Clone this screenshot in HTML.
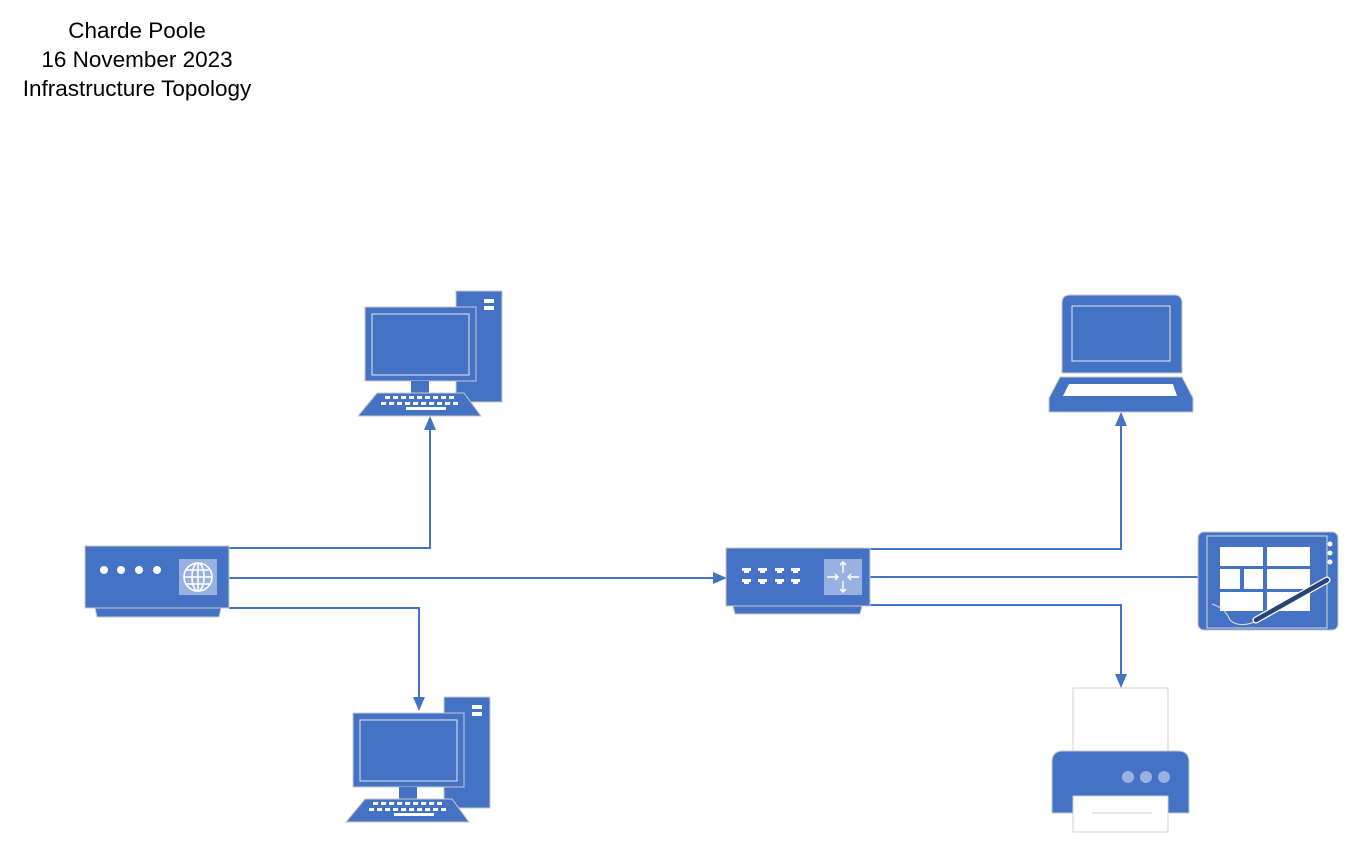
<!DOCTYPE html>
<html><head><meta charset="utf-8"><style>
html,body{margin:0;padding:0;background:#fff;width:1350px;height:843px;overflow:hidden}
.t{position:absolute;left:0;width:274px;text-align:center;font-family:"Liberation Sans",sans-serif;font-size:22.5px;line-height:26px;color:#000}
</style></head><body>
<div class="t" style="top:18px">Charde Poole</div>
<div class="t" style="top:47px">16 November 2023</div>
<div class="t" style="top:76px">Infrastructure Topology</div>
<svg width="1350" height="843" style="position:absolute;left:0;top:0" xmlns="http://www.w3.org/2000/svg">
<defs>
<g id="pc">
<rect x="91" y="0" width="46" height="111" fill="#4472c4" stroke="#c8c8c8" stroke-width="1"/>
<rect x="119" y="8" width="10" height="4" fill="#fff"/><rect x="119" y="15" width="10" height="4" fill="#fff"/>
<rect x="0" y="16" width="111" height="74" fill="#4472c4" stroke="#c8c8c8" stroke-width="1"/>
<rect x="7" y="23" width="97" height="61" fill="none" stroke="#e8e8e8" stroke-width="1"/>
<rect x="46" y="90" width="18" height="12" fill="#4472c4"/>
<path d="M12 102 L99 102 L116 125 L-7 125 Z" fill="#4472c4" stroke="#c8c8c8" stroke-width="1"/>
<g fill="#fff">
<rect x="20" y="105" width="5" height="3"/><rect x="28" y="105" width="5" height="3"/><rect x="36" y="105" width="5" height="3"/><rect x="44" y="105" width="5" height="3"/><rect x="52" y="105" width="5" height="3"/><rect x="60" y="105" width="5" height="3"/><rect x="68" y="105" width="5" height="3"/><rect x="76" y="105" width="5" height="3"/><rect x="84" y="105" width="5" height="3"/>
<rect x="16" y="111" width="5" height="3"/><rect x="24" y="111" width="5" height="3"/><rect x="32" y="111" width="5" height="3"/><rect x="40" y="111" width="5" height="3"/><rect x="48" y="111" width="5" height="3"/><rect x="56" y="111" width="5" height="3"/><rect x="64" y="111" width="5" height="3"/><rect x="72" y="111" width="5" height="3"/><rect x="80" y="111" width="5" height="3"/><rect x="88" y="111" width="5" height="3"/>
<rect x="41" y="116" width="40" height="3"/>
</g>
</g>
</defs>
<g transform="translate(365,291)"><use href="#pc"/></g>
<g transform="translate(353,697)"><use href="#pc"/></g>

<g stroke="#4472c4" stroke-width="2" fill="none">
<polyline points="229,548 430,548 430,428"/>
<polyline points="229,578 715,578"/>
<polyline points="229,608 419,608 419,700"/>
<polyline points="870,549 1121,549 1121,424"/>
<polyline points="870,577 1198,577"/>
<polyline points="870,605 1121,605 1121,676"/>
</g>
<g fill="#4472c4">
<path d="M430,416 L424,430 L436,430 Z"/>
<path d="M727,578 L713,572 L713,584 Z"/>
<path d="M419,711 L413,697 L425,697 Z"/>
<path d="M1121,412 L1115,426 L1127,426 Z"/>
<path d="M1121,688 L1115,674 L1127,674 Z"/>
</g>

<path d="M95 608 L221 608 L219 617 L97 617 Z" fill="#4472c4" stroke="#c8c8c8"/>
<rect x="85" y="546" width="144" height="62" fill="#4472c4" stroke="#c8c8c8"/>
<g fill="#fff"><circle cx="104" cy="570" r="4"/><circle cx="121" cy="570" r="4"/><circle cx="139" cy="570" r="4"/><circle cx="157" cy="570" r="4"/></g>
<rect x="179" y="559" width="38" height="36" fill="#98b1e0"/>
<g stroke="#fff" stroke-width="1.6" fill="none"><circle cx="198" cy="577" r="14"/><ellipse cx="198" cy="577" rx="6" ry="14"/><line x1="198" y1="563" x2="198" y2="591"/><line x1="184" y1="577" x2="212" y2="577"/><line x1="186" y1="570" x2="210" y2="570"/><line x1="186" y1="584" x2="210" y2="584"/></g>

<path d="M733 606 L862 606 L860 614 L735 614 Z" fill="#4472c4" stroke="#c8c8c8"/>
<rect x="726" y="548" width="144" height="58" fill="#4472c4" stroke="#c8c8c8"/>
<g fill="#fff">
<path d="M742 568 h9 v3 h-2 v2 h-5 v-2 h-2 z"/><path d="M758 568 h9 v3 h-2 v2 h-5 v-2 h-2 z"/><path d="M775 568 h9 v3 h-2 v2 h-5 v-2 h-2 z"/><path d="M791 568 h9 v3 h-2 v2 h-5 v-2 h-2 z"/>
<path d="M742 579 h9 v3 h-2 v2 h-5 v-2 h-2 z"/><path d="M758 579 h9 v3 h-2 v2 h-5 v-2 h-2 z"/><path d="M775 579 h9 v3 h-2 v2 h-5 v-2 h-2 z"/><path d="M791 579 h9 v3 h-2 v2 h-5 v-2 h-2 z"/>
</g>
<rect x="824" y="559" width="38" height="36" fill="#98b1e0"/>
<g stroke="#fff" stroke-width="1.4" fill="none"><path d="M843 562 V573 M840 565 L843 562 L846 565 M843 592 V581 M840 589 L843 592 L846 589 M827 577 H838 M835 574 L838 577 L835 580 M859 577 H848 M851 574 L848 577 L851 580"/></g>

<path d="M1062 373 V303 Q1062 295 1070 295 H1174 Q1182 295 1182 303 V373 Z" fill="#4472c4" stroke="#c8c8c8"/>
<rect x="1072" y="306" width="98" height="55" fill="none" stroke="#e8e8e8"/>
<path d="M1060 377 H1182 L1193 398 V412 H1049 V398 Z" fill="#4472c4" stroke="#c8c8c8"/>
<path d="M1069 384 H1173 L1177 396 H1063 Z" fill="#fff"/>

<rect x="1198" y="532" width="140" height="98" rx="6" fill="#4472c4" stroke="#c8c8c8"/>
<rect x="1207" y="536" width="120" height="92" fill="none" stroke="#d8d8d8"/>
<g fill="#fff">
<rect x="1220" y="547" width="43" height="19"/><rect x="1267" y="547" width="43" height="19"/>
<rect x="1220" y="569" width="20" height="20"/><rect x="1244" y="569" width="19" height="20"/><rect x="1267" y="569" width="43" height="20"/>
<rect x="1220" y="592" width="43" height="19"/><rect x="1267" y="592" width="43" height="19"/>
<circle cx="1330" cy="544" r="2.5"/><circle cx="1330" cy="553" r="2.5"/><circle cx="1330" cy="562" r="2.5"/>
</g>
<path d="M1212 604 Q1225 608 1230 620 Q1238 628 1255 622" stroke="#e0e0e0" fill="none"/>
<line x1="1256" y1="620" x2="1327" y2="580" stroke="#fff" stroke-width="7" stroke-linecap="round"/>
<line x1="1256" y1="620" x2="1327" y2="580" stroke="#264478" stroke-width="4.5" stroke-linecap="round"/>

<rect x="1073" y="688" width="95" height="66" fill="#fff" stroke="#d0d0d0"/>
<path d="M1052 813 V762 Q1052 751 1063 751 H1178 Q1189 751 1189 762 V813 Z" fill="#4472c4" stroke="#c8c8c8"/>
<g fill="#98b1e0"><circle cx="1128" cy="777" r="6"/><circle cx="1146" cy="777" r="6"/><circle cx="1164" cy="777" r="6"/></g>
<rect x="1073" y="796" width="95" height="36" fill="#fff" stroke="#d0d0d0"/>
<line x1="1092" y1="813" x2="1152" y2="813" stroke="#c8c8c8"/>
</svg>
</body></html>
